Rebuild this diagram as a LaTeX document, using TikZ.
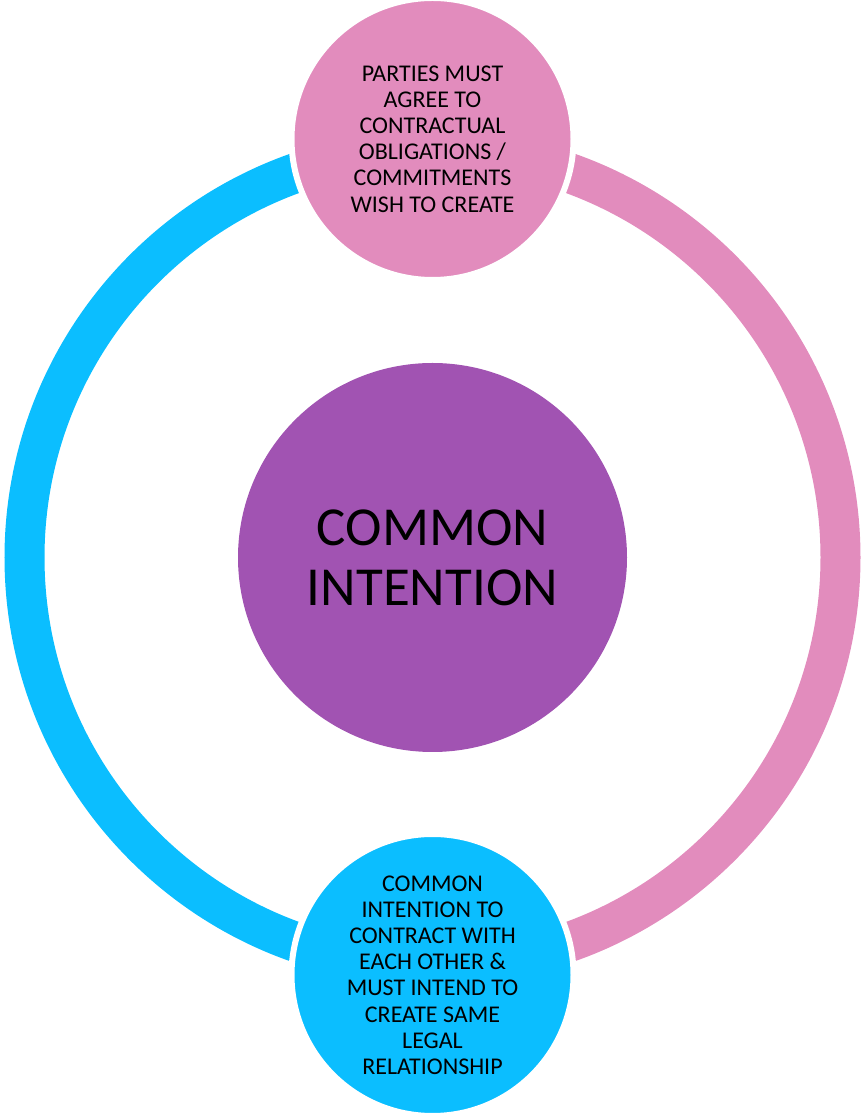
\documentclass[tikz,border=0pt]{standalone}
\usepackage{fontspec}
\setmainfont{Carlito}
\definecolor{ringcyan}{RGB}{11,190,255}
\definecolor{ringpink}{RGB}{226,140,189}
\definecolor{hubpurple}{RGB}{161,83,178}
\begin{document}
\begin{tikzpicture}[x=1pt,y=1pt,
  ringband/.style={line width=40pt},
  satellite/.style={circle, draw=white, line width=6pt, minimum size=282pt, inner sep=0pt, align=center, text=black, font=\fontsize{24}{26.2}\selectfont},
  hub/.style={circle, fill=hubpurple, minimum size=389pt, inner sep=0pt, align=center, text=black, font=\fontsize{55}{60}\selectfont}]
\useasboundingbox (0,0) rectangle (862,1117);
\coordinate (c) at (432.5,559.5);
\draw[ringband, ringcyan] (432.5,967.5) arc[start angle=90, end angle=270, radius=408];
\draw[ringband, ringpink] (432.5,151.5) arc[start angle=-90, end angle=90, radius=408];
\node[hub] (hubnode) at (c) {COMMON\\INTENTION};
\node[satellite, fill=ringpink] (top) at (432.5,978) {PARTIES MUST\\AGREE TO\\CONTRACTUAL\\OBLIGATIONS /\\COMMITMENTS\\WISH TO CREATE};
\node[satellite, fill=ringcyan] (bottom) at (432.5,142) {COMMON\\INTENTION TO\\CONTRACT WITH\\EACH OTHER \&\\MUST INTEND TO\\CREATE SAME\\LEGAL\\RELATIONSHIP};
\end{tikzpicture}
\end{document}
